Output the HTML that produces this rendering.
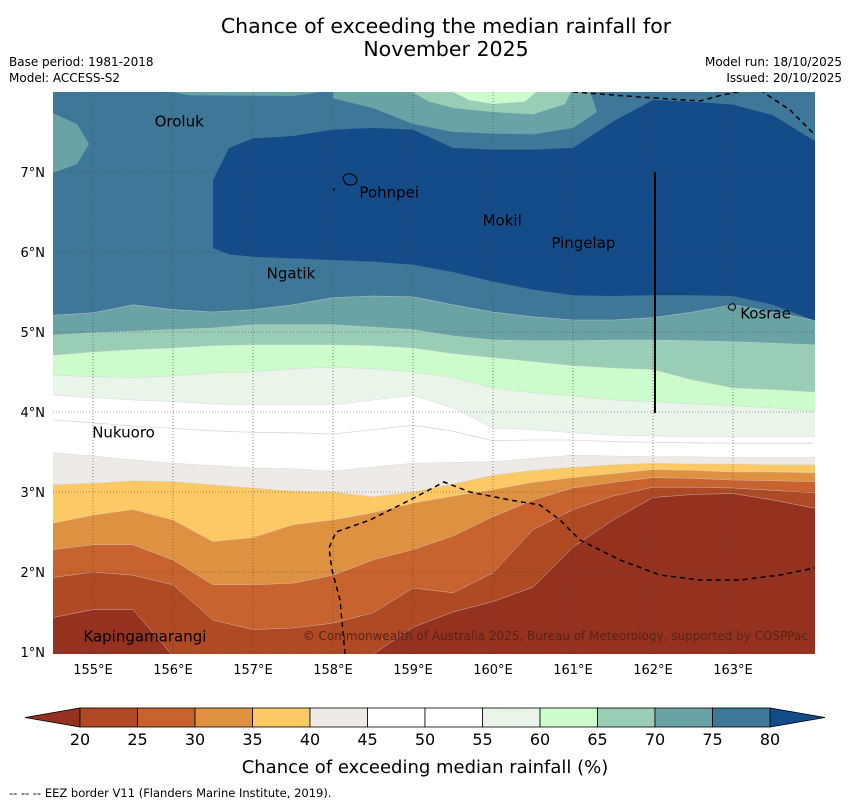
<!DOCTYPE html>
<html><head><meta charset="utf-8"><style>
body{margin:0;background:#fff;}
svg text{font-family:"DejaVu Sans","Liberation Sans",sans-serif;}
</style></head><body>
<svg id="chart" width="850" height="804" xmlns="http://www.w3.org/2000/svg">
<defs><clipPath id="mapclip"><rect x="53" y="92" width="762" height="562"/></clipPath></defs>
<text x="446" y="33" font-size="20.5" text-anchor="middle">Chance of exceeding the median rainfall for</text>
<text x="446" y="56" font-size="20.5" text-anchor="middle">November 2025</text>
<text x="9" y="66" font-size="12">Base period: 1981-2018</text>
<text x="9" y="82" font-size="12">Model: ACCESS-S2</text>
<text x="842" y="66" font-size="12" text-anchor="end">Model run: 18/10/2025</text>
<text x="842" y="82" font-size="12" text-anchor="end">Issued: 20/10/2025</text>
<g id="map" clip-path="url(#mapclip)"></g>
<g id="overlay"></g>
<text x="425" y="773" font-size="18" text-anchor="middle">Chance of exceeding median rainfall (%)</text>
<text x="9" y="797" font-size="11.5">--  --  -- EEZ border V11 (Flanders Marine Institute, 2019).</text>
</svg>
<script>
const lons=[154.5,155,155.5,156,156.5,157,157.5,158,158.5,159,159.5,160,160.5,161,161.5,162,162.5,163,163.5,164];
const levels=[20,25,30,35,40,45,55,60,65,70,75];
const b20=[1.43,1.53,1.53,0.95,0.9,0.9,0.9,0.9,0.97,1.31,1.5,1.63,1.81,2.31,2.65,2.93,2.97,2.98,2.9,2.8];
const b25=[1.93,2.0,1.96,1.84,1.4,1.28,1.3,1.36,1.49,1.8,1.74,1.99,2.53,2.78,2.95,3.06,3.06,3.05,3.02,2.99];
const b30=[2.28,2.34,2.34,2.15,1.84,1.84,1.86,1.96,2.15,2.28,2.45,2.69,2.9,3.05,3.12,3.18,3.17,3.15,3.14,3.13];
const b35=[2.61,2.71,2.78,2.65,2.38,2.43,2.59,2.65,2.74,2.86,2.95,3.03,3.12,3.18,3.23,3.28,3.27,3.25,3.25,3.24];
const b40=[3.09,3.11,3.14,3.13,3.09,3.05,3.01,3.0,2.94,3.0,3.1,3.21,3.27,3.31,3.34,3.36,3.35,3.35,3.34,3.34];
const b45=[3.49,3.45,3.4,3.36,3.33,3.3,3.29,3.26,3.31,3.36,3.37,3.38,3.42,3.46,3.45,3.44,3.44,3.43,3.43,3.43];
const b55=[4.21,4.18,4.15,4.13,4.1,4.09,4.09,4.09,4.15,4.21,4.05,3.8,3.78,3.74,3.71,3.7,3.69,3.69,3.69,3.69];
const b60=[4.46,4.44,4.43,4.45,4.49,4.5,4.54,4.56,4.54,4.5,4.43,4.3,4.24,4.2,4.15,4.13,4.1,4.08,4.05,4.01];
const b65=[4.71,4.75,4.78,4.8,4.83,4.84,4.84,4.84,4.83,4.8,4.73,4.68,4.63,4.58,4.55,4.53,4.4,4.3,4.28,4.25];
const b70=[4.96,4.99,5.01,5.03,5.05,5.09,5.09,5.09,5.06,5.03,4.95,4.9,4.89,4.89,4.9,4.9,4.89,4.88,4.86,4.84];
const b75=[5.21,5.24,5.34,5.28,5.25,5.28,5.34,5.43,5.45,5.44,5.34,5.25,5.19,5.15,5.15,5.18,5.25,5.34,5.25,5.15];
const blobLons=[156.5,156.7,157,157.5,158,158.5,159,159.5,160,160.5,161,161.5,162,162.5,163,163.5,164];
const blobLower=[6.05,5.97,5.94,5.92,5.9,5.88,5.84,5.75,5.63,5.53,5.46,5.45,5.46,5.46,5.45,5.34,5.15];
const blobUpper=[6.9,7.3,7.42,7.45,7.53,7.55,7.53,7.3,7.28,7.28,7.3,7.63,7.9,7.88,7.84,7.71,7.4];
const teal1=[[158,8.05],[158,7.92],[158.5,7.8],[159,7.6],[159.5,7.5],[160,7.48],[160.5,7.47],[161,7.55],[161.3,7.75],[161.2,8.05]];
const teal2=[[154.4,7.78],[154.8,7.6],[154.95,7.35],[154.8,7.1],[154.4,6.95]];
const teal3=[[155.7,8.05],[156.2,7.96],[157.5,7.95],[158.2,8.05]];
const green65=[[158.9,8.05],[159.2,7.88],[159.5,7.8],[160,7.75],[160.5,7.72],[160.9,7.85],[161.0,8.05]];
const green60=[[159.4,8.05],[159.7,7.9],[160,7.85],[160.4,7.88],[160.6,8.05]];
const bandColors=["#af4a24","#c8622f","#df9142","#fdc964","#eeebe6","#ffffff","#eaf5e9","#ccfbcc","#9acdb6","#6aa3a6","#3e7797"];
const cbTicks=[20,25,30,35,40,45,50,55,60,65,70,75,80];
const cbColors=["#af4a24","#c8622f","#df9142","#fdc964","#eeebe6","#ffffff","#ffffff","#eaf5e9","#ccfbcc","#9acdb6","#6aa3a6","#3e7797"];
const latTicks=[1,2,3,4,5,6,7];
const lonTicks=[155,156,157,158,159,160,161,162,163];
const places=[["Oroluk",155.77,7.57],["Pohnpei",158.33,6.68],["Mokil",159.87,6.33],["Pingelap",160.73,6.05],["Ngatik",157.17,5.67],["Kosrae",163.09,5.17],["Nukuoro",154.99,3.68],["Kapingamarangi",154.88,1.13]];

const X=lon=>53+(lon-154.5)*80;
const Y=lat=>92+(8-lat)*80;
const NS="http://www.w3.org/2000/svg";
const map=document.getElementById('map'), svg=document.getElementById('chart');
function mk(tag,attrs,parent){const e=document.createElementNS(NS,tag);for(const k in attrs)e.setAttribute(k,attrs[k]);parent.appendChild(e);return e;}
function pts(arr){return arr.map(p=>X(p[0]).toFixed(1)+','+Y(p[1]).toFixed(1)).join(' ');}

let r=mk('rect',{x:53,y:92,width:762,height:562,fill:"#94311f"},map);


const bounds=[b20,b25,b30,b35,b40,b45,b55,b60,b65,b70,b75];
bounds.forEach((b,i)=>{
  const p=lons.map((lo,j)=>[lo,b[j]]);
  p.push([164.2,b[b.length-1]]);p.push([164.2,8.1]);p.push([154.4,8.1]);p.push([154.4,b[0]]);
  const e=mk('polygon',{points:pts(p),fill:bandColors[i],stroke:"#cfcfcf","stroke-width":0.4},map);
  
  
});
const b50=b45.map((v,j)=>(v+b55[j])/2+0.05);
let l50=mk('polyline',{points:pts(lons.map((lo,j)=>[lo,b50[j]])),fill:"none",stroke:"#d8d8d8","stroke-width":0.8},map);


const blob=blobLons.map((lo,j)=>[lo,blobLower[j]]).concat([[164.2,blobLower[blobLower.length-1]],[164.2,blobUpper[blobUpper.length-1]]]).concat(blobLons.map((lo,j)=>[lo,blobUpper[j]]).reverse());
let bl=mk('polygon',{points:pts(blob),fill:"#134c89"},map);


[[teal1,"#6aa3a6","band-70-north"],[teal2,"#6aa3a6","band-70-west"],[teal3,"#6aa3a6","band-70-top"],[green65,"#9acdb6","band-65-north"],[green60,"#ccfbcc","band-60-north"]].forEach(d=>{
  const e=mk('polygon',{points:pts(d[0]),fill:d[1]},map);
  
  
});
latTicks.forEach(t=>{
  const g=mk('line',{x1:53,x2:815,y1:Y(t),y2:Y(t),stroke:"#444","stroke-width":0.6,"stroke-dasharray":"1,2"},map);
  
  
  const tx=mk('text',{x:45,y:Y(t)+5,"font-size":13,"text-anchor":"end"},svg);tx.textContent=t+'°N';
  
  
});
lonTicks.forEach(t=>{
  const g=mk('line',{x1:X(t),x2:X(t),y1:92,y2:654,stroke:"#444","stroke-width":0.6,"stroke-dasharray":"1,2"},map);
  
  
  const tx=mk('text',{x:X(t),y:674,"font-size":13,"text-anchor":"middle"},svg);tx.textContent=t+'°E';
  
  
});
[["M573,92 L640,97 L700,101 L722,95 L748,90","eez-border-north"],["M760,90 L790,110 L815,135","eez-border-northeast"],["M345,654 L340,600 L332,570 L329,548 L336,532 L370,520 L410,500 L444,482 L470,492 L510,500 L540,505 L560,520 L580,540 L620,560 L660,575 L700,580 L740,580 L780,575 L815,568","eez-border-south"]].forEach(d=>{
  const e=mk('path',{d:d[0],fill:"none",stroke:"#000","stroke-width":1.5,"stroke-dasharray":"5,4"},map);
  
  
});
let vl=mk('line',{x1:655,x2:655,y1:172,y2:413,stroke:"#000","stroke-width":2},map);


let po=mk('path',{d:"M343,177 q3,-4 8,-3 q6,2 6,7 q-1,4 -7,4 q-6,0 -7,-8 z M334,188 l0,3",fill:"none",stroke:"#000","stroke-width":1.1},map);


let ko=mk('path',{d:"M728,307 q3,-4 6,-3 q3,3 0,6 q-4,1 -6,-3 z",fill:"none",stroke:"#000","stroke-width":1},map);


places.forEach(p=>{
  const t=mk('text',{x:X(p[1]),y:Y(p[2]),"font-size":15},map);t.textContent=p[0];
  
  
});
let cp=mk('text',{x:808,y:640,"font-size":12,fill:"#5c2214","text-anchor":"end"},map);
cp.textContent='© Commonwealth of Australia 2025, Bureau of Meteorology, supported by COSPPac';


const cbX=v=>80+(v-20)*11.5;
let lt=mk('polygon',{points:"25,717.5 80,708 80,727",fill:"#94311f",stroke:"#000","stroke-width":0.8},svg);


let rt=mk('polygon',{points:"825,717.5 770,708 770,727",fill:"#134c89",stroke:"#000","stroke-width":0.8},svg);


cbColors.forEach((c,i)=>{
  const e=mk('rect',{x:cbX(cbTicks[i]),y:708,width:cbX(cbTicks[i+1])-cbX(cbTicks[i]),height:19,fill:c,stroke:"#000","stroke-width":0.8},svg);
  
  
});
cbTicks.forEach(t=>{
  const e=mk('text',{x:cbX(t),y:745,"font-size":16,"text-anchor":"middle"},svg);e.textContent=t;
  
  
});
</script>
</body></html>
